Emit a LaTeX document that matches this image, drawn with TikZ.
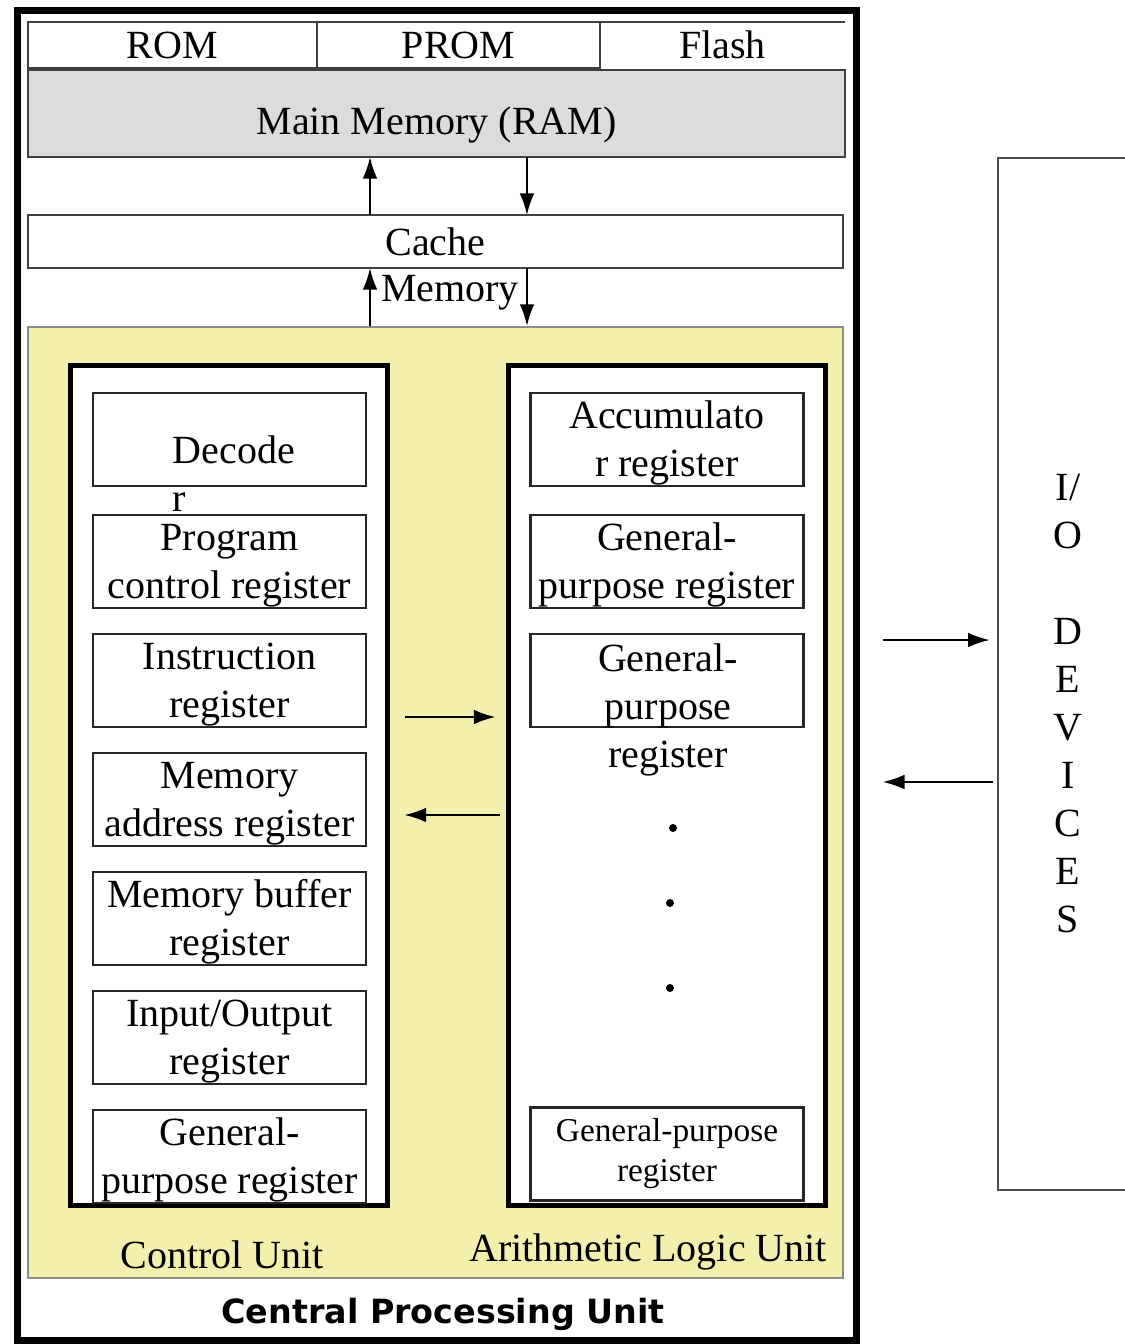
\documentclass[tikz,border=0pt]{standalone}
\usepackage{fontspec}
\setmainfont{Liberation Serif}
\newfontfamily\cpufont{DejaVu Sans}
\usetikzlibrary{positioning, arrows.meta}
\definecolor{cpuyellow}{RGB}{243,239,173}
\definecolor{ramgray}{RGB}{220,220,220}
\newcommand{\regstrut}{\rule{0pt}{10.6pt}}

\begin{document}
\begin{tikzpicture}[x=0.3pt,y=-0.3pt,->,>={Latex[length=6.5pt,width=4.4pt]},semithick,node distance=7.8pt,
    every node/.style={font=\fontsize{12}{14.4}\selectfont,inner sep=0pt},
    cell/.style={draw=black!75,line width=0.75pt,outer sep=0pt,minimum height=13.8pt},
    unit/.style={draw=black,line width=1.5pt,fill=white,minimum width=95.1pt,minimum height=252pt},
    reg/.style={draw=black!85,line width=0.75pt,outer sep=0pt,align=center,
        minimum width=81.9pt,minimum height=27.9pt}]
    \useasboundingbox (0,0) rectangle (1125,1344);
    \clip (0,0) rectangle (1125,1344);

    % cpu frame and memories
    \node[draw,line width=2.1pt,minimum width=251.7pt,minimum height=399pt] (cpubox) at (436.5,675) {};
    \node[cell,minimum width=86.7pt] (rom) at (172.5,45) {ROM};
    \node[cell,minimum width=84.9pt,right=0pt of rom] (prom) {PROM};
    \node[cell,draw=none,minimum width=73.5pt,right=0pt of prom] (flash) {Flash};
    \draw[-,black!75,line width=0.75pt] (flash.north west) -- (flash.north east);
    \node[cell,fill=ramgray,minimum width=245.1pt,minimum height=26.1pt,text height=15.4pt,text depth=2.6pt] (ram) at (436.5,113.5) {Main Memory (RAM)};
    \node[cell,minimum width=244.5pt,minimum height=15.9pt] (cache) at (435.5,241.5) {Cache};
    \node (memlbl) at (450,293) {Memory};

    \node[draw=black!45,fill=cpuyellow,line width=0.6pt,minimum width=244.5pt,minimum height=285.3pt] (cpu) at (435.5,802.5) {};
    \node[unit] (cu) at (228.5,785) {};
    \node[unit] (alu) at (666.5,785) {};

    % control unit
    \node[reg] (dec) at (229.5,439.5) {};
    \node[align=left] (dectxt) at (234,474) {Decode\\r};
    \node[reg,below=8.7pt of dec] (pcr) {\regstrut Program\\control register};
    \node[reg,below=of pcr] (ir) {\regstrut Instruction\\register};
    \node[reg,below=of ir] (mar) {\regstrut Memory\\address register};
    \node[reg,below=of mar] (mbr) {\regstrut Memory buffer\\register};
    \node[reg,below=of mbr] (ior) {\regstrut Input/Output\\register};
    \node[reg,below=of ior] (cugpr) {\regstrut General-\\purpose register};

    % alu
    \node[reg] (acc) at (667,439.5) {\regstrut Accumulato\\r register};
    \node[reg,below=8.7pt of acc] (gpr1) {\regstrut General-\\purpose register};
    \node[reg,below=of gpr1] (gpr2) {};
    \node[align=center] (gpr2txt) at (668,710) {General-\\purpose\\register};
    \node[circle,fill,minimum size=2.4pt] (dot1) at (673,828) {};
    \node[circle,fill,minimum size=2.4pt] (dot2) at (670,903) {};
    \node[circle,fill,minimum size=2.4pt] (dot3) at (670,988) {};
    \node[reg,font=\fontsize{10}{12}\selectfont] (gprn) at (667,1154) {General-purpose\\register};

    \node (culbl) at (222,1255) {Control Unit};
    \node (alulbl) at (648,1252) {Arithmetic Logic Unit};
    \node[font=\cpufont\bfseries\fontsize{10}{12}\selectfont] (cpulbl) at (443,1314) {Central Processing Unit};

    % i/o devices
    \node[draw=black!70,line width=0.75pt,minimum width=42.6pt,minimum height=309.6pt] (io) at (1069,674) {};
    \node[align=center] (iotxt) at (1068,703) {I/\\O\\[14.4pt]D\\E\\V\\I\\C\\E\\S};

    % arrows
    \coordinate (upx) at (370,0);
    \coordinate (dnx) at (527,0);
    \coordinate (ay1) at (0,717);
    \coordinate (ay2) at (0,815);
    \coordinate (iy1) at (0,640);
    \coordinate (iy2) at (0,782);
    \draw (upx |- cache.north) -- (upx |- ram.south);
    \draw (dnx |- ram.south) -- (dnx |- cache.north);
    \draw (upx |- cpu.north) -- (upx |- cache.south);
    \draw (dnx |- cache.south) -- (dnx |- cpu.north);
    \draw[shorten <=4.5pt,shorten >=3pt] (cu.east |- ay1) -- (alu.west |- ay1);
    \draw[shorten <=1.8pt,shorten >=4.5pt] (alu.west |- ay2) -- (cu.east |- ay2);
    \draw[shorten <=7pt,shorten >=2.1pt] (cpubox.east |- iy1) -- (io.west |- iy1);
    \draw[shorten <=1.2pt,shorten >=7pt] (io.west |- iy2) -- (cpubox.east |- iy2);
\end{tikzpicture}
\end{document}
